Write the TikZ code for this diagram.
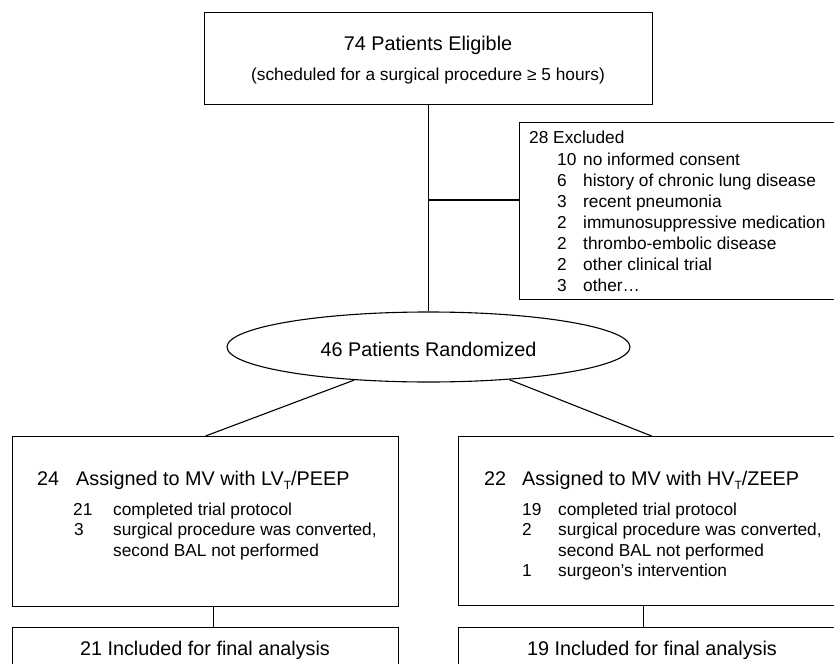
\documentclass[tikz,border=0pt]{standalone}
\usepackage{fontspec}
\setmainfont{Liberation Sans}
\usetikzlibrary{shapes.geometric}
\tikzset{
  box/.style={draw, line width=1.1pt, rectangle, inner sep=0pt, anchor=north west},
  oval/.style={draw, line width=1.1pt, ellipse, inner sep=0pt, minimum width=403pt, minimum height=70pt, text height=18pt, text depth=0pt, font=\fontsize{19.8}{23}\selectfont},
  big/.style={font=\fontsize{19.8}{23}\selectfont, inner sep=0pt},
  small/.style={font=\fontsize{17.3}{20}\selectfont, inner sep=0pt},
  conn/.style={line width=1.1pt},
}
\newcommand{\subT}{\raisebox{-4pt}{\fontsize{12}{12}\selectfont T}}
\begin{document}
\begin{tikzpicture}[x=1pt,y=-1pt]
\useasboundingbox (0,0) rectangle (834,663);
\clip (0,0) rectangle (834,663);
\fill[white] (0,0) rectangle (834,663);

% boxes
\node[box, minimum width=448pt, minimum height=92pt] (elig) at (204,12) {};
\node[box, minimum width=330pt, minimum height=177pt] (excl) at (519,122) {};
\node[oval] (rand) at (428.5,347) {46 Patients Randomized};
\node[box, minimum width=386pt, minimum height=170pt] (lv) at (12,436) {};
\node[box, minimum width=386pt, minimum height=169pt] (hv) at (458,436) {};
\node[box, minimum width=386pt, minimum height=46pt] (lvf) at (12,627) {};
\node[box, minimum width=386pt, minimum height=46pt] (hvf) at (458,627) {};

% connectors
\draw[conn] (elig.south) -- (elig.south |- rand.north);
\coordinate (exclin) at ([yshift=-78pt]excl.north west);
\draw[conn] (exclin) -- (exclin -| elig.south);
\draw[conn] (rand.204) -- (lv.north);
\draw[conn] (rand.338) -- (hv.north);
\draw[conn] ([xshift=8pt]lv.south) -- ([xshift=8pt]lvf.north);
\draw[conn] ([xshift=-8pt]hv.south) -- ([xshift=-8pt]hvf.north);

% top box text
\node[big, anchor=base] (t1) at (428,51) {74 Patients Eligible};
\node[small, anchor=base] (t2) at (428,81) {(scheduled for a surgical procedure ≥ 5 hours)};

% excluded text
\node[small, anchor=base west] (e0) at (529,144) {28 Excluded};
\node[small, anchor=base west] (e1n) at (557,165) {10};
\node[small, anchor=base west] (e1) at (583,165) {no informed consent};
\node[small, anchor=base west] (e2n) at (557,186) {6};
\node[small, anchor=base west] (e2) at (583,186) {history of chronic lung disease};
\node[small, anchor=base west] (e3n) at (557,207) {3};
\node[small, anchor=base west] (e3) at (583,207) {recent pneumonia};
\node[small, anchor=base west] (e4n) at (557,228) {2};
\node[small, anchor=base west] (e4) at (583,228) {immunosuppressive medication};
\node[small, anchor=base west] (e5n) at (557,249) {2};
\node[small, anchor=base west] (e5) at (583,249) {thrombo-embolic disease};
\node[small, anchor=base west] (e6n) at (557,270) {2};
\node[small, anchor=base west] (e6) at (583,270) {other clinical trial};
\node[small, anchor=base west] (e7n) at (557,291) {3};
\node[small, anchor=base west] (e7) at (583,291) {other…};

% left arm text
\node[big, anchor=base west] (l0n) at (37,485) {24};
\node[big, anchor=base west] (l0) at (76,485) {Assigned to MV with LV\subT/PEEP};
\node[small, anchor=base west] (l1n) at (73,515) {21};
\node[small, anchor=base west] (l1) at (113,515) {completed trial protocol};
\node[small, anchor=base west] (l2n) at (74,535.5) {3};
\node[small, anchor=base west] (l2) at (113,535.5) {surgical procedure was converted,};
\node[small, anchor=base west] (l3) at (113,556) {second BAL not performed};

% right arm text
\node[big, anchor=base west] (r0n) at (484,485) {22};
\node[big, anchor=base west] (r0) at (522,485) {Assigned to MV with HV\subT/ZEEP};
\node[small, anchor=base west] (r1n) at (522,515) {19};
\node[small, anchor=base west] (r1) at (558,515) {completed trial protocol};
\node[small, anchor=base west] (r2n) at (522,535.5) {2};
\node[small, anchor=base west] (r2) at (558,535.5) {surgical procedure was converted,};
\node[small, anchor=base west] (r3) at (558,556) {second BAL not performed};
\node[small, anchor=base west] (r4n) at (522,576.5) {1};
\node[small, anchor=base west] (r4) at (558,576.5) {surgeon’s intervention};

% final boxes text
\node[big, anchor=base] (lf) at (205,655) {21 Included for final analysis};
\node[big, anchor=base] (rf) at (652,655) {19 Included for final analysis};
\end{tikzpicture}
\end{document}
